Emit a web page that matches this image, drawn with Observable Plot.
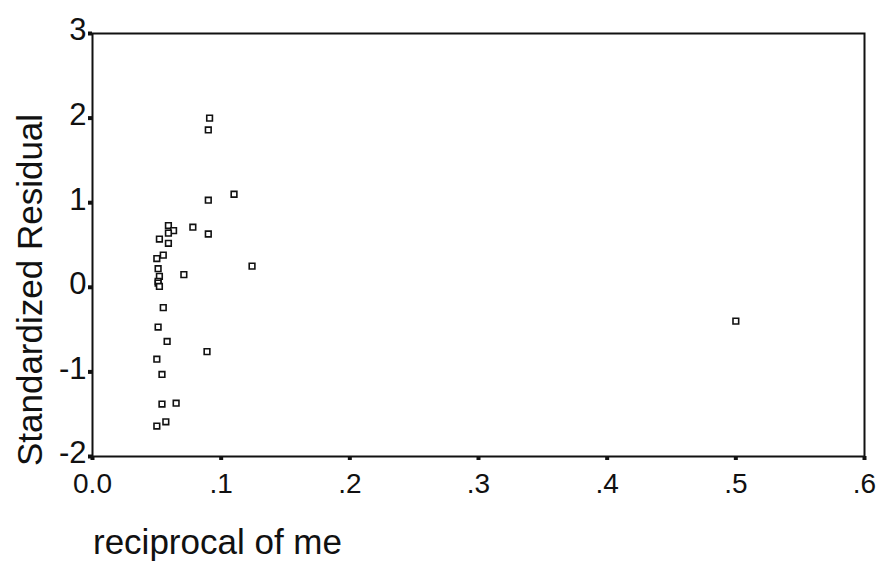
<!DOCTYPE html>
<html>
<head>
<meta charset="utf-8">
<script src="https://cdn.jsdelivr.net/npm/d3@7"></script>
<script src="https://cdn.jsdelivr.net/npm/@observablehq/plot@0.6"></script>
<style>
  html, body { margin: 0; padding: 0; background: #fff; }
  #chart { position: relative; width: 880px; height: 574px; }
  #xlabel { position: absolute; left: 93px; top: 522px; font: 35px "Liberation Sans", Arial, sans-serif; color: #111; white-space: nowrap; }
  #ylabel { position: absolute; left: 30px; top: 290px; font: 35px "Liberation Sans", Arial, sans-serif; color: #111; white-space: nowrap;
            transform: translate(-50%, -50%) rotate(-90deg); }
</style>
</head>
<body>
<div id="chart"></div>
<script>
const reciprocalOfMe = [0.091, 0.090, 0.110, 0.090, 0.059, 0.078, 0.063, 0.059, 0.090, 0.052,
  0.059, 0.055, 0.050, 0.124, 0.051, 0.071, 0.052, 0.051, 0.051, 0.052,
  0.055, 0.051, 0.058, 0.089, 0.050, 0.054, 0.054, 0.065, 0.057, 0.050, 0.500];
const standardizedResidual = [2.00, 1.86, 1.10, 1.03, 0.73, 0.71, 0.67, 0.64, 0.63, 0.57,
  0.52, 0.38, 0.34, 0.25, 0.22, 0.15, 0.13, 0.07, 0.05, 0.01,
  -0.24, -0.47, -0.64, -0.76, -0.85, -1.03, -1.38, -1.37, -1.59, -1.64, -0.40];
const xTicks = [0, 0.1, 0.2, 0.3, 0.4, 0.5, 0.6];
const xTickLabels = ["0.0", ".1", ".2", ".3", ".4", ".5", ".6"];
const yTicks = [-2, -1, 0, 1, 2, 3];
const yTickLabels = ["-2", "-1", "0", "1", "2", "3"];

const data = reciprocalOfMe.map((x, i) => ({x, y: standardizedResidual[i]}));

const chart = Plot.plot({
  width: 880,
  height: 574,
  marginLeft: 92,
  marginRight: 16,
  marginTop: 33,
  marginBottom: 118,
  style: {fontFamily: "'Liberation Sans', Arial, sans-serif", background: "#fff", color: "#111"},
  x: {domain: [0, 0.6]},
  y: {domain: [-2, 3]},
  marks: [
    Plot.frame({stroke: "#111", strokeWidth: 2}),
    Plot.axisX({ticks: xTicks, tickFormat: (d, i) => xTickLabels[i], tickSize: 4, strokeWidth: 4, tickPadding: 13, fontSize: 28, label: null}),
    Plot.axisY({ticks: yTicks, tickFormat: () => "", tickSize: 4, strokeWidth: 4, label: null}),
    Plot.axisY({ticks: yTicks, tickFormat: (d, i) => yTickLabels[i], tickSize: 0, tickPadding: 6, dy: -3, fontSize: 31, label: null}),
    Plot.dot(data, {x: "x", y: "y", symbol: "square", r: 3.2, stroke: "#111", strokeWidth: 1.6, fill: "white"})
  ]
});
const host = document.getElementById("chart");
host.appendChild(chart);
const xl = document.createElement("div");
xl.id = "xlabel";
xl.textContent = "reciprocal of me";
host.appendChild(xl);
const yl = document.createElement("div");
yl.id = "ylabel";
yl.textContent = "Standardized Residual";
host.appendChild(yl);
</script>
</body>
</html>
